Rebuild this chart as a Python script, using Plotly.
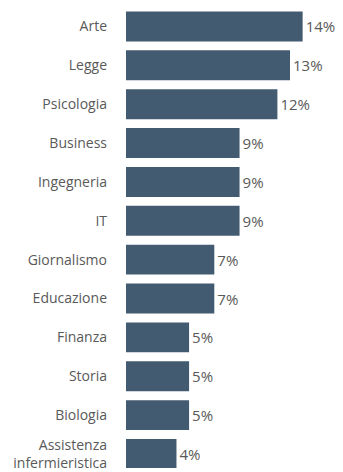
import plotly.graph_objects as go

# Field of study and share of respondents (%)
categories = [
    "Arte", "Legge", "Psicologia", "Business", "Ingegneria", "IT",
    "Giornalismo", "Educazione", "Finanza", "Storia", "Biologia",
    "Assistenza<br>infermieristica",
]
shares = [14, 13, 12, 9, 9, 9, 7, 7, 5, 5, 5, 4]

BAR_COLOR = "#435B70"
TEXT_COLOR = "#595959"
FONT = "Open Sans, Noto Sans, sans-serif"

fig = go.Figure(
    go.Bar(
        x=shares,
        y=categories,
        orientation="h",
        marker=dict(color=BAR_COLOR, line=dict(width=0)),
        width=0.77,
        text=[f"{v}%" for v in shares],
        textposition="outside",
        constraintext="none",
        textfont=dict(family=FONT, size=15, color=TEXT_COLOR),
        cliponaxis=False,
        hoverinfo="skip",
    )
)

fig.update_layout(
    width=343,
    height=472,
    margin=dict(l=126, r=0, t=7, b=0),
    paper_bgcolor="white",
    plot_bgcolor="white",
    showlegend=False,
    font=dict(family=FONT, size=14, color=TEXT_COLOR),
    xaxis=dict(
        range=[0, 17.2],
        visible=False,
        showgrid=False,
        zeroline=False,
        fixedrange=True,
    ),
    yaxis=dict(
        type="category",
        categoryorder="array",
        categoryarray=categories,
        range=[11.36, -0.5],
        showgrid=False,
        zeroline=False,
        showline=False,
        ticks="",
        ticklabelstandoff=18,
        tickfont=dict(family=FONT, size=14, color=TEXT_COLOR),
        fixedrange=True,
    ),
)

fig.write_html("out.html")
